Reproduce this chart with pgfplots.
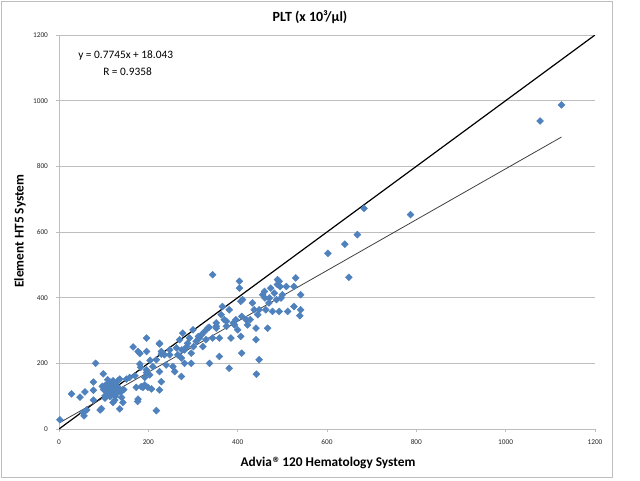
\documentclass[border=0pt]{standalone}
\usepackage{fontspec}
\setmainfont{Carlito}
\newfontfamily\djv{DejaVu Sans}
\usepackage{pgfplots}
\pgfplotsset{compat=1.18}
\definecolor{pts}{RGB}{79,129,189}
\definecolor{gridc}{RGB}{190,190,190}
\begin{document}
\begin{tikzpicture}[x=0.75pt,y=0.75pt]
\useasboundingbox (0,0) rectangle (640,480);
\draw[gridc, line width=0.75pt] (1.5,2.5) rectangle (612,478.5);
\begin{axis}[
 at={(44.25pt,38.25pt)}, anchor=south west, scale only axis,
 width=402pt, height=295.5pt,
 xmin=0, xmax=1200, ymin=0, ymax=1200,
 xtick={0,200,...,1200}, ytick={0,200,...,1200},
 axis x line=bottom, axis y line=left,
 axis line style={-, draw=gridc, line width=0.75pt},
 ymajorgrids, grid style={gridc, line width=0.75pt},
 tick style={gridc, line width=0.75pt}, major tick length=2.25pt, tick align=outside,
 ticklabel style={font=\fontsize{5.5}{6}\selectfont, text=black!85},
 xticklabel style={yshift=-2pt}, yticklabel style={xshift=-2.5pt},
 /pgf/number format/assume math mode=true,
 /pgf/number format/1000 sep={},
]
\addplot[only marks, mark=square*, mark options={rotate=45, fill=pts, draw=pts}, mark size=1.8pt] coordinates {
(2,28) (28,107) (47,97) (58,113) (54,50) (56,40) (62,58) (77,118) (77,143) (82,200) (99,168) (95,62) (77,88)
(103,132) (110,137) (117,122) (106,117) (125,117) (114,107) (103,101) (129,132) (121,147) (132,147) (136,152)
(140,96) (143,81) (136,61) (121,81) (129,109) (114,99) (125,88) (110,139) (118,129) (121,119) (106,114) (103,94)
(112,125) (108,128) (119,112) (127,126) (131,118) (115,142) (123,136) (100,120) (133,126) (97,130) (109,150)
(126,100) (138,112) (145,120) (92,58)
(151,152) (158,157) (170,162) (166,250) (181,230) (196,277) (196,236) (181,198) (183,188) (173,127) (177,91)
(176,84) (188,127) (199,127) (207,122) (192,157) (196,172) (218,56) (225,259) (229,228) (177,236) (184,129)
(192,134) (225,119) (203,165) (196,180) (210,190) (218,211) (229,236) (225,261) (236,226) (240,195) (225,175)
(229,144) (248,241) (255,190) (259,175) (266,226) (274,216) (270,272) (277,292) (281,241) (288,261) (281,200)
(274,160) (292,277) (296,231) (296,200) (300,302) (307,267) (314,277) (322,251) (326,297) (329,272) (333,307)
(344,470) (337,200) (352,323) (352,307) (359,277) (359,221) (363,348) (366,373) (370,333) (381,363) (381,185)
(385,277) (393,317) (396,333) (404,450) (404,429) (400,302) (407,282) (407,389) (411,394) (409,231) (419,333)
(422,317) (433,384) (437,363) (441,272) (441,307) (445,348) (448,211) (442,167) (456,409) (460,419) (463,363)
(467,307) (471,399) (474,429) (478,358) (482,414) (489,455) (493,450) (489,440) (497,399) (493,358) (500,409)
(509,434) (512,358) (526,373) (530,460) (526,434) (541,409) (541,363) (539,345)
(204,209) (248,226) (263,247) (275,241) (286,251) (301,251) (312,282) (319,287) (336,310) (344,277) (352,313)
(375,328) (390,323) (375,313) (409,343) (428,333) (448,363) (470,384) (487,394) (495,434) (461,399)
(602,535) (640,563) (668,592) (683,672) (649,462) (787,653) (1077,938) (1125,987)
};
\addplot[black, line width=0.9pt] coordinates {(0,0) (1200,1200)};
\addplot[black!75, line width=0.6pt] coordinates {(2,19.6) (1125,889.3)};
\end{axis}
\node[font=\bfseries\fontsize{10.5}{12}\selectfont] at (310,463) {PLT (x 10³/µl)};
\node[font=\bfseries\fontsize{10}{12}\selectfont] at (328,17) {Advia\raisebox{3.2pt}{\djv\fontsize{5.5}{6}\selectfont ®} 120 Hematology System};
\node[rotate=90, font=\bfseries\fontsize{10}{12}\selectfont] at (20,249) {Element HT5 System};
\node[anchor=west, inner sep=0pt, font=\fontsize{8.5}{10}\selectfont] at (78,424) {y = 0.7745x + 18.043};
\node[anchor=west, inner sep=0pt, font=\fontsize{8.5}{10}\selectfont] at (103,408) {R = 0.9358};
\end{tikzpicture}
\end{document}
